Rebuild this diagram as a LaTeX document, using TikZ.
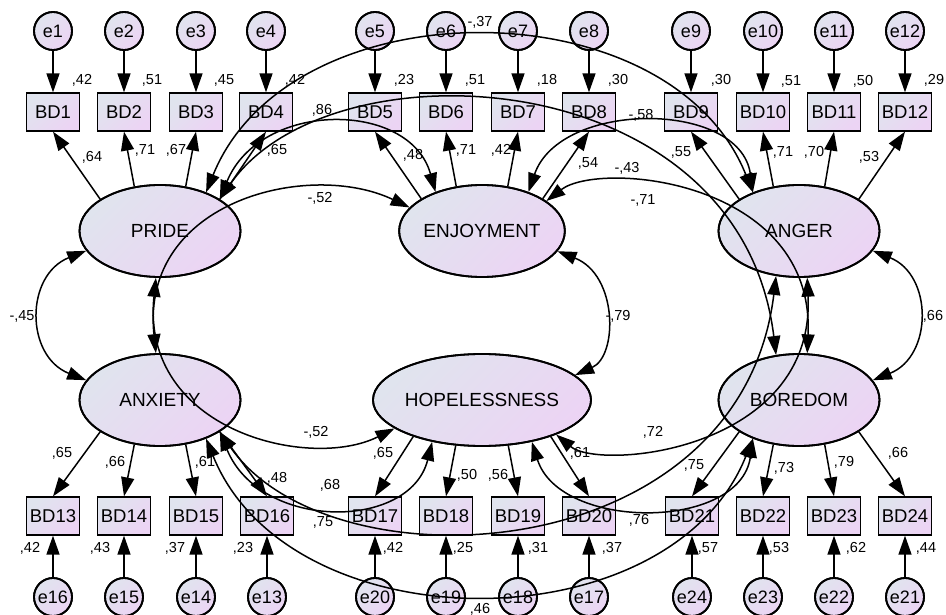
\documentclass[tikz,border=0pt]{standalone}
\usepackage{fontspec}
\setmainfont{Liberation Sans}
\usetikzlibrary{arrows.meta,shapes.geometric}
\definecolor{gA}{RGB}{224,228,238}
\definecolor{gB}{RGB}{236,212,244}
\begin{document}
\begin{tikzpicture}[x=1pt,y=-1pt,
  fillg/.style={left color=gA, right color=gB, shading angle=45, draw=black, line width=1.8pt,
    postaction={draw=black, line width=1.8pt}},
  errc/.style={fillg, circle, minimum size=38pt, inner sep=0pt, font=\fontsize{18}{18}\selectfont},
  obsbox/.style={fillg, rectangle, minimum width=53pt, minimum height=37.5pt, inner sep=0pt, font=\fontsize{18.5}{18.5}\selectfont},
  lat/.style={fillg, ellipse, minimum width=161pt, minimum height=92pt, inner sep=0pt, font=\fontsize{19}{19}\selectfont},
  arr/.style={-{Triangle[length=19pt,width=13pt]}, line width=1.5pt},
  cov/.style={{Triangle[length=19pt,width=13pt]}-{Triangle[length=19pt,width=13pt]}, line width=1.5pt},
  lab/.style={font=\fontsize{14.5}{14.5}\selectfont, inner sep=0pt}
]
\useasboundingbox (0,0) rectangle (946,615);

% latent variables
\node[lat] (P) at (160,231) {PRIDE};
\node[lat] (E) at (482,231) {ENJOYMENT};
\node[lat] (G) at (799,231) {ANGER};
\node[lat] (X) at (160,400) {ANXIETY};
\node[lat] (H) at (482,400) {HOPELESSNESS};
\node[lat] (B) at (799,400) {BOREDOM};

% top indicators and errors
\foreach \i/\x in {1/53,2/124,3/196,4/266,5/375,6/446,7/518,8/589,9/691,10/763,11/834,12/905}{
  \node[errc] (e\i) at (\x,31) {e\i};
  \node[obsbox] (BD\i) at (\x,112) {BD\i};
  \draw[arr] (e\i) -- (BD\i);
}
% bottom indicators and errors
\foreach \b/\e/\x in {13/16/53,14/15/124,15/14/196,16/13/267,17/20/375,18/19/446,19/18/518,20/17/589,21/24/692,22/23/763,23/22/834,24/21/905}{
  \node[errc] (e\e) at (\x,597) {e\e};
  \node[obsbox] (BD\b) at (\x,516) {BD\b};
  \draw[arr] (e\e) -- (BD\b);
}

% loadings
\foreach \b/\a in {1/152,2/120,3/60,4/28} \draw[arr] (P.\a) -- (BD\b.south);
\foreach \b/\a in {5/152,6/120,7/60,8/28} \draw[arr] (E.\a) -- (BD\b.south);
\foreach \b/\a in {9/152,10/120,11/60,12/28} \draw[arr] (G.\a) -- (BD\b.south);
\foreach \b/\a in {13/208,14/240,15/300,16/332} \draw[arr] (X.\a) -- (BD\b.north);
\foreach \b/\a in {17/208,18/240,19/300,20/332} \draw[arr] (H.\a) -- (BD\b.north);
\foreach \b/\a in {21/208,22/240,23/300,24/332} \draw[arr] (B.\a) -- (BD\b.north);

% covariances
\draw[cov] (P.40) .. controls (290,-15) and (670,-15) .. (G.140);
\draw[cov] (P.28) .. controls (260,100) and (410,100) .. (E.140);
\draw[cov] (P.28) .. controls (330,40) and (740,60) .. (B.117);
\draw[cov] (E.40) .. controls (560,100) and (740,100) .. (G.140);
\draw[cov] (E.25) .. controls (600,160) and (815,180) .. (B.80);
\draw[cov] (E.162) .. controls (310,160) and (140,200) .. (X.95);
\draw[cov] (H.198) .. controls (310,471) and (140,431) .. (P.265);
\draw[cov] (P.195) .. controls (25,275) and (25,356) .. (X.165);
\draw[cov] (E.345) .. controls (618,275) and (618,356) .. (H.15);
\draw[cov] (G.345) .. controls (933,275) and (933,356) .. (B.15);
\draw[cov] (X.332) .. controls (260,531) and (410,531) .. (H.220);
\draw[cov] (X.332) .. controls (330,591) and (740,571) .. (G.243);
\draw[cov] (X.320) .. controls (290,646) and (670,646) .. (B.220);
\draw[cov] (H.320) .. controls (560,531) and (740,531) .. (B.220);
\draw[cov] (H.335) .. controls (600,471) and (815,451) .. (G.280);

% loading labels
\foreach \t/\x/\y in {{,64}/92/157,{,71}/145/150,{,67}/176/150,{,65}/277/150,
  {,48}/413/155,{,71}/466/150,{,42}/501/150,{,54}/588/163,
  {,55}/681/152,{,71}/783/152,{,70}/814/152,{,53}/869/157,
  {,65}/62/453,{,66}/115/462,{,61}/205/462,{,48}/277/478,
  {,65}/383/453,{,50}/467/475,{,56}/498/475,{,61}/580/453,
  {,75}/694/465,{,73}/784/468,{,79}/844/462,{,66}/898/453}
  \node[lab] at (\x,\y) {\t};
% squared multiple correlations
\foreach \t/\x/\y in {{,42}/82/80,{,51}/152/80,{,45}/224/80,{,42}/295/80,
  {,23}/404/80,{,51}/475/80,{,18}/547/80,{,30}/618/80,
  {,30}/721/80,{,51}/791/81,{,50}/863/81,{,29}/934/80,
  {,42}/30/548,{,43}/100/548,{,37}/175/548,{,23}/243/548,
  {,42}/393/548,{,25}/463/548,{,31}/538/548,{,37}/612/548,
  {,57}/708/548,{,53}/779/548,{,62}/856/548,{,44}/926/548}
  \node[lab] at (\x,\y) {\t};
% covariance labels
\foreach \t/\x/\y in {{-,37}/480/22,{,86}/322/110,{-,52}/320/198,{-,58}/641/115,
  {-,43}/627/168,{-,71}/643/200,{-,45}/22/316,{-,79}/618/316,{,66}/933/316,
  {-,52}/316/432,{,72}/653/432,{,68}/330/485,{,75}/323/522,{,76}/639/520,{,46}/480/609}
  \node[lab] at (\x,\y) {\t};
\end{tikzpicture}
\end{document}
